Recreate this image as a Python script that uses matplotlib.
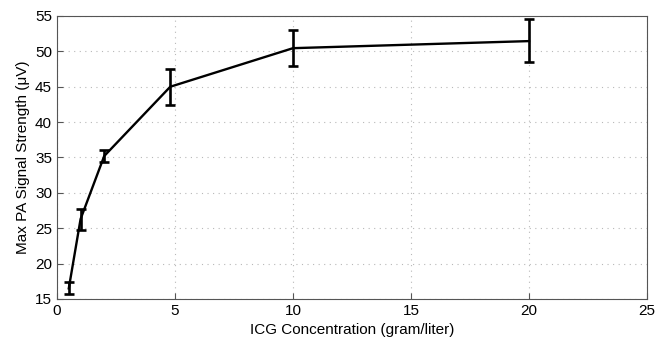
import matplotlib
matplotlib.use("Agg")
import matplotlib.pyplot as plt

conc = [0.5, 1, 2, 4.8, 10, 20]
signal = [16.5, 26.3, 35.2, 45.0, 50.45, 51.45]
err_low = [0.85, 1.5, 0.9, 2.55, 2.5, 3.0]
err_high = [0.95, 1.45, 0.8, 2.5, 2.6, 3.1]

xticks = [0, 5, 10, 15, 20, 25]
yticks = [15, 20, 25, 30, 35, 40, 45, 50, 55]

plt.rcParams['font.family'] = ['Liberation Sans', 'DejaVu Sans']

fig = plt.figure(figsize=(6.68, 3.4), dpi=100)
ax = fig.add_axes([0.0853, 0.1206, 0.8833, 0.8324])
ax.errorbar(conc, signal, yerr=[err_low, err_high], color='black', lw=1.7,
            elinewidth=1.9, capsize=3.5, capthick=1.9)
ax.set_xlim(0, 25)
ax.set_ylim(15, 55)
ax.set_xticks(xticks)
ax.set_yticks(yticks)
ax.grid(True, linestyle=(0, (1, 4)), color='#b8b8b8', lw=0.8)
ax.tick_params(direction='in', length=4, labelsize=11, color='#555555')
for s in ax.spines.values():
    s.set_color('#555555')
ax.set_xlabel('ICG Concentration (gram/liter)', fontsize=11)
ax.set_ylabel('Max PA Signal Strength (μV)', fontsize=11)
fig.savefig('out.png', dpi=100)
